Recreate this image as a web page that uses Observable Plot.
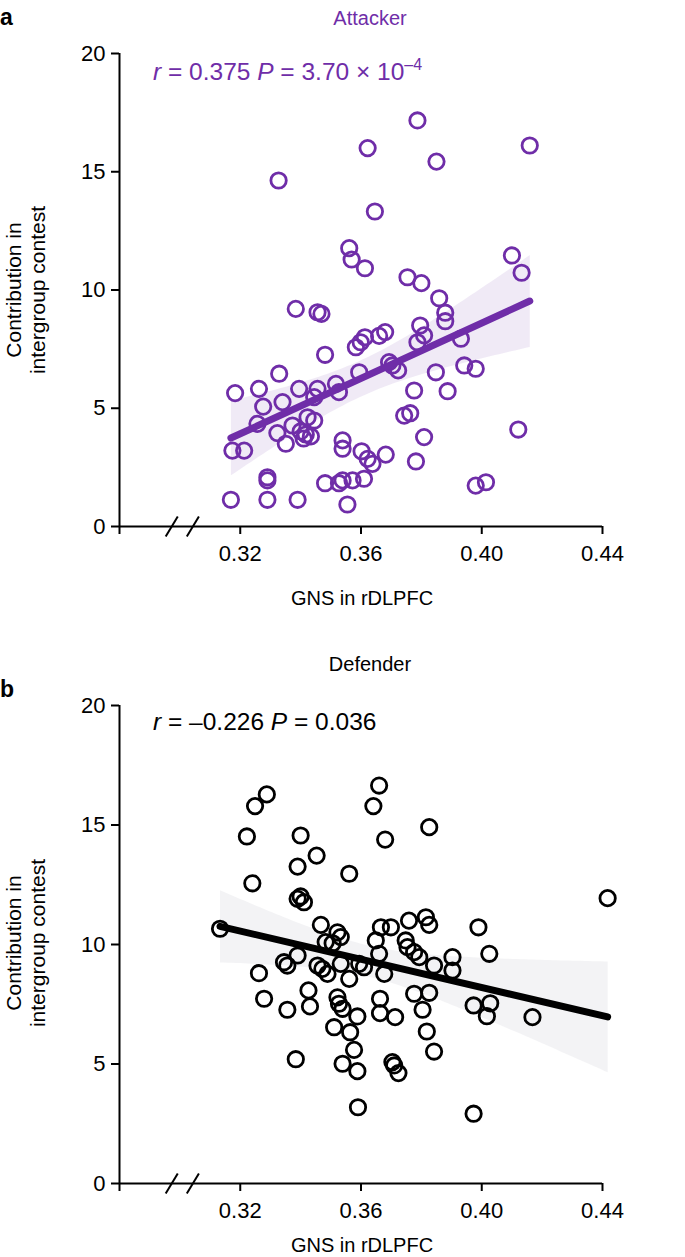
<!DOCTYPE html>
<html>
<head>
<meta charset="utf-8">
<script src="https://cdn.jsdelivr.net/npm/d3@7"></script>
<script src="https://cdn.jsdelivr.net/npm/@observablehq/plot@0.6"></script>
<style>
  body { margin: 0; background: #fff; font-family: "Liberation Sans", Arial, Helvetica, sans-serif; color: #000; }
  #wrap { position: relative; width: 685px; height: 1257px; overflow: hidden; }
  .abs { position: absolute; white-space: nowrap; line-height: 1; }
  .letter { font-weight: bold; font-size: 23px; }
  .title { font-size: 20px; transform: translateX(-50%); }
  .stat { font-size: 24.5px; }
  .stat sup { font-size: 16px; vertical-align: 0; position: relative; top: -10px; }
  .ylab { font-size: 21px; line-height: 24px; text-align: center; transform: translate(-50%, -50%) rotate(-90deg); }
  .xlab { font-size: 20px; transform: translateX(-50%); }
  .plot { position: absolute; left: 0; }
</style>
</head>
<body>
<div id="wrap">
  <div class="abs letter" style="left:0px;top:6px;">a</div>
  <div class="abs title" style="left:370px;top:8px;color:#6f2da8;">Attacker</div>
  <div class="abs stat" style="left:153px;top:60px;color:#6f2da8;"><i>r</i> = 0.375 <i>P</i> = 3.70 × 10<sup>–4</sup></div>
  <div class="abs ylab" style="left:26px;top:290px;">Contribution in<br>intergroup contest</div>
  <div class="abs xlab" style="left:362px;top:588px;">GNS in rDLPFC</div>

  <div class="abs letter" style="left:0px;top:678px;">b</div>
  <div class="abs title" style="left:370px;top:654px;">Defender</div>
  <div class="abs stat" style="left:153px;top:710px;"><i>r</i> = –0.226 <i>P</i> = 0.036</div>
  <div class="abs ylab" style="left:26px;top:943px;">Contribution in<br>intergroup contest</div>
  <div class="abs xlab" style="left:362px;top:1235px;">GNS in rDLPFC</div>

  <div id="pa" class="plot" style="top:0px;"></div>
  <div id="pb" class="plot" style="top:652px;"></div>
</div>
<script>
// ---- data ----
const xTicks = [0.28, 0.32, 0.36, 0.40, 0.44];
const yTicks = [0, 5, 10, 15, 20];
const axisBreaks = [0.2973, 0.3043];

const attackerX = [0.3327,0.3787,0.3622,0.3850,0.4159,0.3646,0.3561,0.3569,0.3613,0.4100,
  0.4132,0.3754,0.3800,0.3384,0.3456,0.3469,0.3859,0.3879,0.3879,0.3796,
  0.3583,0.3599,0.3613,0.3660,0.3680,0.3481,0.3693,0.3723,0.3704,0.3329,
  0.3183,0.3262,0.3395,0.3456,0.3517,0.3527,0.3594,0.3276,0.3340,0.3445,
  0.3423,0.3445,0.3257,0.3373,0.3323,0.3400,0.3417,0.3434,0.3410,0.3351,
  0.3174,0.3213,0.3539,0.3539,0.3602,0.3622,0.3638,0.3682,0.3290,0.3290,
  0.3481,0.3527,0.3539,0.3572,0.3610,0.3169,0.3290,0.3390,0.3555,0.3809,
  0.3787,0.3931,0.3848,0.3942,0.3980,0.3776,0.3887,0.3743,0.3763,0.3809,
  0.4121,0.3782,0.3980,0.4014];
const attackerY = [14.63,17.17,16.00,15.43,16.11,13.32,11.77,11.29,10.92,11.46,
  10.73,10.54,10.29,9.20,9.06,8.99,9.65,9.04,8.68,8.50,
  7.58,7.79,8.00,8.06,8.22,7.26,6.95,6.60,6.81,6.46,
  5.64,5.82,5.82,5.82,6.03,5.68,6.52,5.07,5.26,5.47,
  4.62,4.48,4.34,4.27,3.95,4.02,3.89,3.81,3.72,3.50,
  3.21,3.21,3.64,3.29,3.18,2.86,2.65,3.04,2.08,1.95,
  1.83,1.83,1.95,1.95,2.02,1.13,1.13,1.13,0.93,8.08,
  7.79,7.94,6.52,6.81,6.67,5.75,5.72,4.69,4.79,3.78,
  4.10,2.75,1.73,1.87];

const defenderX = [0.3660,0.3288,0.3249,0.3641,0.3826,0.3222,0.3400,0.3680,0.3453,0.3390,
  0.3561,0.3240,0.3390,0.3400,0.3411,0.3133,0.3467,0.3522,0.3533,0.3483,
  0.3506,0.3666,0.3699,0.3649,0.3759,0.3815,0.3826,0.3748,0.3754,0.3776,
  0.3793,0.3660,0.3390,0.3345,0.3356,0.3456,0.3472,0.3262,0.3533,0.3594,
  0.3610,0.3677,0.3489,0.3561,0.4417,0.3989,0.4025,0.3903,0.3903,0.3842,
  0.3279,0.3356,0.3426,0.3431,0.3522,0.3527,0.3539,0.3588,0.3511,0.3564,
  0.3663,0.3663,0.3713,0.3776,0.3804,0.3826,0.3818,0.3842,0.3577,0.3384,
  0.3539,0.3588,0.3704,0.3710,0.3724,0.3590,0.3973,0.4028,0.4017,0.4168,
  0.3973];
const defenderY = [16.65,16.28,15.79,15.79,14.91,14.52,14.56,14.39,13.72,13.26,
  12.96,12.56,11.91,12.01,11.77,10.66,10.82,10.51,10.31,10.10,
  10.05,10.72,10.72,10.17,11.00,11.14,10.82,10.17,9.89,9.68,
  9.47,9.61,9.54,9.26,9.12,9.12,8.98,8.80,9.19,9.19,
  9.05,8.77,8.77,8.56,11.94,10.72,9.61,9.47,8.91,9.12,
  7.73,7.27,8.08,7.41,7.79,7.52,7.31,6.99,6.54,6.33,
  7.73,7.13,6.96,7.94,7.27,7.98,6.36,5.52,5.59,5.20,
  5.01,4.70,5.08,4.94,4.62,3.19,7.45,7.54,7.00,6.96,
  2.92];

const attacker = attackerX.map((x, i) => ({x, y: attackerY[i]}));
const defender = defenderX.map((x, i) => ({x, y: defenderY[i]}));

function panel(data, color, bandFill, bandOpacity, height, marginBottom) {
  return Plot.plot({
    width: 685,
    height,
    marginLeft: 119,
    marginRight: 83,
    marginTop: 53,
    marginBottom,
    style: { fontFamily: "'Liberation Sans', Arial, Helvetica, sans-serif", fontSize: "22px", color: "#000", background: "transparent", overflow: "visible" },
    x: { domain: [0.28, 0.44] },
    y: { domain: [0, 20] },
    marks: [
      Plot.linearRegressionY(data, { x: "x", y: "y", ci: 0.95, stroke: "none", fill: bandFill, fillOpacity: bandOpacity }),
      Plot.dot(data, { x: "x", y: "y", r: 7.7, stroke: color, strokeWidth: 2.8, fill: "none" }),
      Plot.linearRegressionY(data, { x: "x", y: "y", ci: 0, stroke: color, strokeWidth: 7 }),
      Plot.ruleX([0.28], { y1: 0, y2: 20, stroke: "#000", strokeWidth: 2 }),
      Plot.ruleY([0], { x1: 0.28, x2: 0.44, stroke: "#000", strokeWidth: 2 }),
      Plot.link(axisBreaks, { x1: d => d - 0.002, x2: d => d + 0.002, y1: -0.42, y2: 0.42, stroke: "#000", strokeWidth: 2 }),
      Plot.axisY({ ticks: yTicks, tickSize: 8, tickPadding: 6, strokeWidth: 2, label: null, tickFormat: d => String(d) }),
      Plot.axisX({ ticks: xTicks, tickSize: 8, tickPadding: 11, strokeWidth: 2, label: null, tickFormat: d => d === 0.28 ? "" : d.toFixed(2) })
    ]
  });
}

document.getElementById("pa").appendChild(panel(attacker, "#6f2da8", "#6f2da8", 0.1, 620, 94));
document.getElementById("pb").appendChild(panel(defender, "#000", "#e8e7ec", 0.5, 605, 74));
</script>
</body>
</html>
